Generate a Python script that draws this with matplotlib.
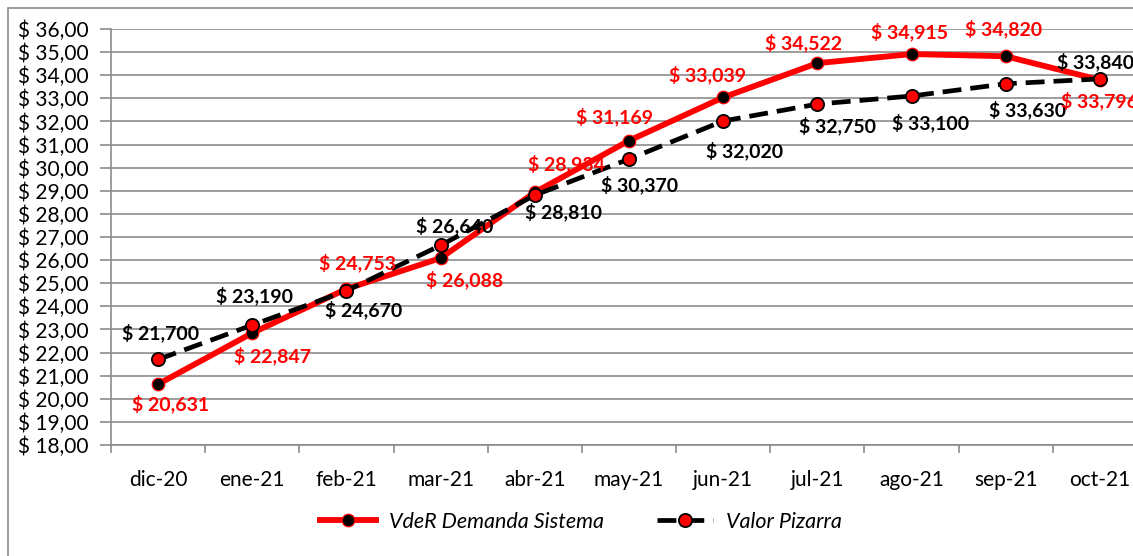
import matplotlib.pyplot as plt
from matplotlib.patches import Rectangle
import numpy as np

plt.rcParams['font.family'] = ['Lato', 'DejaVu Sans']

meses = ['dic-20', 'ene-21', 'feb-21', 'mar-21', 'abr-21', 'may-21',
         'jun-21', 'jul-21', 'ago-21', 'sep-21', 'oct-21']
vder = [20.631, 22.847, 24.753, 26.088, 28.934, 31.169,
        33.039, 34.522, 34.915, 34.820, 33.796]
pizarra = [21.700, 23.190, 24.670, 26.640, 28.810, 30.370,
           32.020, 32.750, 33.100, 33.630, 33.840]

# label offsets in pixels (dx, dy), dy positive = up
off_vder = [(12, -20), (20, -23), (11, 26), (24, -22), (32, 28), (-15, 24),
            (-16, 23), (-14, 20), (-2, 22), (-2, 27), (0, -21)]
off_piz = [(2, 27), (2, 29), (17, -19), (14, 19), (29, -17), (11, -26),
           (21, -30), (20, -22), (19, -27), (22, -26), (-4, 17)]

fig = plt.figure(figsize=(11.33, 5.56), dpi=100)
fig.patches.append(Rectangle((8 / 1133, -0.1), 1.2, 1 - 8 / 556 + 0.1,
                             transform=fig.transFigure, fill=False,
                             edgecolor='#8c8c8c', linewidth=1.2))
ax = fig.add_axes([111 / 1133, 1 - 445 / 556, 1036 / 1133, 416 / 556])

x = np.arange(len(meses))
l1, = ax.plot(x, vder, color='#ff0000', lw=4.2, marker='o', ms=9,
              mfc='black', mec='#ff0000', mew=0.9, label='VdeR Demanda Sistema',
              zorder=3)
l2, = ax.plot(x, pizarra, color='black', lw=3.4, ls=(0, (4, 1.9)), marker='o',
              ms=9.5, mfc='#ff0000', mec='black', mew=1.3, label='Valor Pizarra',
              zorder=4)

for i in range(len(meses)):
    ax.annotate('$ {:,.3f}'.format(vder[i]).replace('.', ','), (x[i], vder[i]),
                xytext=off_vder[i], textcoords='offset pixels', ha='center',
                va='center', color='#ff0000', fontweight='bold', fontsize=14,
                zorder=5, annotation_clip=False)
    ax.annotate('$ {:,.3f}'.format(pizarra[i]).replace('.', ','), (x[i], pizarra[i]),
                xytext=off_piz[i], textcoords='offset pixels', ha='center',
                va='center', color='black', fontweight='bold', fontsize=14,
                zorder=5, annotation_clip=False)

ax.set_xlim(-0.5, 10.5)
ax.set_ylim(18, 36)
yt = np.arange(18, 37, 1)
ax.set_yticks(yt)
ax.set_yticklabels(['$ {:.2f}'.format(v).replace('.', ',') for v in yt],
                   fontsize=15)
ax.set_xticks(x)
ax.set_xticklabels(meses, fontsize=15)
ax.set_xticks(np.arange(-0.5, 11, 1), minor=True)
ax.tick_params(axis='x', which='major', length=0, pad=18)
ax.tick_params(axis='x', which='minor', length=6, color='#8c8c8c', width=1.2)
ax.tick_params(axis='y', length=8, color='#8c8c8c', width=1.2, pad=8)
ax.grid(axis='y', color='#8c8c8c', lw=1.2)
ax.set_axisbelow(True)
for s in ['top', 'right']:
    ax.spines[s].set_visible(False)
for s in ['left', 'bottom']:
    ax.spines[s].set_color('#8c8c8c')
    ax.spines[s].set_linewidth(1.2)

fig.legend(handles=[l1, l2], loc='center', bbox_to_anchor=(581 / 1133, 1 - 522 / 556),
           ncol=2, frameon=False, prop={'style': 'italic', 'size': 15.5},
           handlelength=2.6, columnspacing=2.5, handletextpad=0.6)

fig.savefig('out.png', dpi=100)
